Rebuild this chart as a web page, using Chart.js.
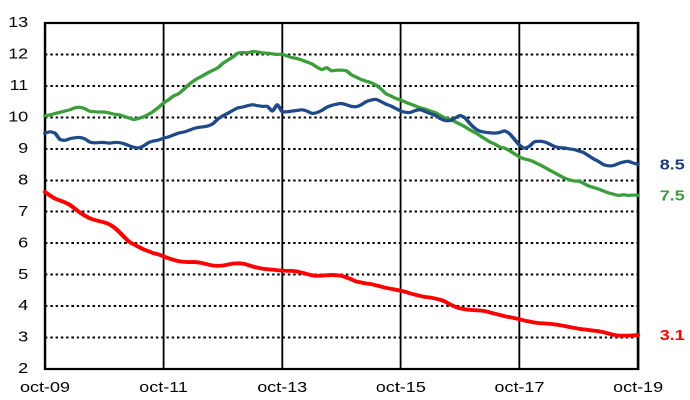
<!DOCTYPE html>
<html>
<head>
<meta charset="utf-8">
<script src="https://cdn.jsdelivr.net/npm/chart.js@4.4.1/dist/chart.umd.min.js"></script>
<style>
  html, body { margin: 0; padding: 0; background: #fff; overflow: hidden; }
  /* the original picture is stretched sideways, so draw narrow and widen it */
  #wrap { width: 575px; height: 400px; transform: scaleX(1.2); transform-origin: 0 0; }
</style>
</head>
<body>
<div id="wrap"><canvas id="chart"></canvas></div>
<script>
// monthly values, oct-09 .. oct-19
const blueSeries = [
  9.50, 9.54, 9.50, 9.30, 9.27, 9.32, 9.35, 9.36, 9.32, 9.22, 9.19, 9.20,
  9.20, 9.18, 9.20, 9.20, 9.16, 9.10, 9.05, 9.03, 9.10, 9.20, 9.25, 9.28,
  9.34, 9.38, 9.44, 9.50, 9.53, 9.58, 9.64, 9.68, 9.70, 9.73, 9.80, 9.95,
  10.05, 10.13, 10.22, 10.30, 10.33, 10.37, 10.40, 10.37, 10.35, 10.35, 10.20, 10.40,
  10.18, 10.18, 10.20, 10.22, 10.24, 10.20, 10.13, 10.15, 10.22, 10.32, 10.38, 10.42,
  10.44, 10.40, 10.35, 10.34, 10.40, 10.50, 10.55, 10.57, 10.50, 10.42, 10.36, 10.28,
  10.20, 10.16, 10.16, 10.22, 10.24, 10.18, 10.12, 10.06, 9.96, 9.90, 9.90, 9.98,
  10.06, 9.98, 9.80, 9.65, 9.56, 9.53, 9.51, 9.50, 9.52, 9.57, 9.48, 9.30,
  9.12, 9.02, 9.08, 9.22, 9.24, 9.22, 9.16, 9.08, 9.04, 9.03, 9.00, 8.98,
  8.93, 8.88, 8.78, 8.68, 8.60, 8.50, 8.46, 8.47, 8.53, 8.58, 8.60, 8.55,
  8.50
];
const greenSeries = [
  10.05, 10.08, 10.12, 10.16, 10.20, 10.24, 10.30, 10.32, 10.28, 10.20, 10.18, 10.17,
  10.17, 10.14, 10.10, 10.08, 10.03, 9.98, 9.93, 9.97, 10.02, 10.10, 10.20, 10.32,
  10.46, 10.56, 10.68, 10.75, 10.88, 11.03, 11.15, 11.25, 11.33, 11.42, 11.50, 11.58,
  11.72, 11.82, 11.92, 12.04, 12.06, 12.05, 12.09, 12.08, 12.05, 12.04, 12.02, 12.00,
  12.01, 11.95, 11.90, 11.87, 11.82, 11.76, 11.70, 11.60, 11.52, 11.58, 11.48, 11.50,
  11.50, 11.48, 11.35, 11.28, 11.20, 11.15, 11.10, 11.02, 10.90, 10.75, 10.68, 10.60,
  10.55, 10.48, 10.42, 10.36, 10.30, 10.26, 10.20, 10.15, 10.06, 9.98, 9.94, 9.86,
  9.78, 9.70, 9.60, 9.52, 9.42, 9.32, 9.22, 9.15, 9.06, 9.02, 8.94, 8.84,
  8.74, 8.68, 8.64, 8.58, 8.50, 8.42, 8.33, 8.25, 8.16, 8.08, 8.02, 7.98,
  7.97, 7.90, 7.82, 7.77, 7.72, 7.66, 7.60, 7.56, 7.52, 7.54, 7.52, 7.53,
  7.52
];
const redSeries = [
  7.63, 7.52, 7.42, 7.36, 7.30, 7.22, 7.10, 6.98, 6.88, 6.80, 6.74, 6.70,
  6.66, 6.60, 6.50, 6.36, 6.20, 6.05, 5.96, 5.88, 5.80, 5.74, 5.68, 5.64,
  5.58, 5.52, 5.47, 5.43, 5.41, 5.40, 5.40, 5.39, 5.36, 5.32, 5.29, 5.28,
  5.29, 5.32, 5.35, 5.36, 5.35, 5.31, 5.26, 5.22, 5.19, 5.17, 5.16, 5.14,
  5.13, 5.12, 5.12, 5.10, 5.06, 5.02, 4.98, 4.96, 4.97, 4.98, 4.99, 4.98,
  4.96, 4.91, 4.85, 4.78, 4.75, 4.72, 4.70, 4.66, 4.62, 4.58, 4.55, 4.52,
  4.49, 4.45, 4.40, 4.36, 4.32, 4.29, 4.27, 4.24, 4.20, 4.14, 4.05, 3.98,
  3.93, 3.90, 3.88, 3.87, 3.86, 3.84, 3.80, 3.76, 3.72, 3.68, 3.65, 3.62,
  3.58, 3.54, 3.51, 3.48, 3.46, 3.45, 3.44, 3.42, 3.40, 3.37, 3.34, 3.31,
  3.28, 3.26, 3.24, 3.22, 3.20, 3.17, 3.13, 3.09, 3.06, 3.06, 3.06, 3.07,
  3.08
];
const tickLabels = ['oct-09', 'oct-11', 'oct-13', 'oct-15', 'oct-17', 'oct-19'];
const monthsPerTick = 24;

const BLUE = '#1F4A87';
const GREEN = '#3A9E3A';
const RED = '#FF0000';
const FONT = "'Liberation Sans', Arial, sans-serif";

const labels = blueSeries.map((v, i) => i);

// black frame round the plot area
const frame = {
  id: 'frame',
  beforeDatasetsDraw(chart) {
    const { ctx, chartArea: a } = chart;
    ctx.save();
    ctx.strokeStyle = '#000';
    ctx.lineWidth = 2.2;
    ctx.strokeRect(a.left, a.top, a.right - a.left, a.bottom - a.top);
    ctx.restore();
  }
};

// last value written at the right of each line
const endLabels = {
  id: 'endLabels',
  afterDatasetsDraw(chart) {
    const { ctx, chartArea: a } = chart;
    const y = chart.scales.y;
    ctx.save();
    ctx.font = 'bold 15px ' + FONT;
    ctx.textAlign = 'left';
    ctx.textBaseline = 'middle';
    chart.data.datasets.forEach(ds => {
      const last = ds.data[ds.data.length - 1];
      ctx.fillStyle = ds.labelColor;
      ctx.fillText(last.toFixed(1), a.right + 18, y.getPixelForValue(last) + 1);
    });
    ctx.restore();
  }
};

new Chart(document.getElementById('chart'), {
  type: 'line',
  data: {
    labels: labels,
    datasets: [
      { data: blueSeries, borderColor: BLUE, labelColor: '#1B3C78', borderWidth: 3.2 },
      { data: greenSeries, borderColor: GREEN, labelColor: GREEN, borderWidth: 3.2 },
      { data: redSeries, borderColor: RED, labelColor: RED, borderWidth: 3.8 }
    ]
  },
  options: {
    responsive: true,
    maintainAspectRatio: false,
    devicePixelRatio: 2,
    animation: false,
    layout: { padding: { top: 16, right: 43.3, left: 0, bottom: 0 } },
    elements: {
      point: { radius: 0 },
      line: { tension: 0.2, borderCapStyle: 'round', borderJoinStyle: 'round' }
    },
    plugins: { legend: { display: false }, tooltip: { enabled: false } },
    scales: {
      x: {
        type: 'category',
        offset: false,
        afterFit(s) { s.height = 31; },
        border: { display: false },
        grid: {
          drawTicks: false,
          lineWidth: 1.6,
          color: c => (c.index % monthsPerTick === 0 && c.index > 0 && c.index < labels.length - 1) ? '#000' : 'rgba(0,0,0,0)'
        },
        ticks: {
          autoSkip: false,
          maxRotation: 0,
          minRotation: 0,
          padding: 10,
          color: '#000',
          font: { family: FONT, size: 15 },
          callback: (v, i) => i % monthsPerTick === 0 ? tickLabels[i / monthsPerTick] : ''
        }
      },
      y: {
        min: 2,
        max: 13,
        afterFit(s) { s.width = 37.5; },
        border: { display: false, dash: [2, 2.4] },
        grid: {
          drawTicks: false,
          lineWidth: 2,
          color: c => (c.tick.value > 2 && c.tick.value < 13) ? '#000' : 'rgba(0,0,0,0)'
        },
        ticks: {
          stepSize: 1,
          padding: 14,
          color: '#000',
          font: { family: FONT, size: 15 }
        }
      }
    }
  },
  plugins: [frame, endLabels]
});
</script>
</body>
</html>
